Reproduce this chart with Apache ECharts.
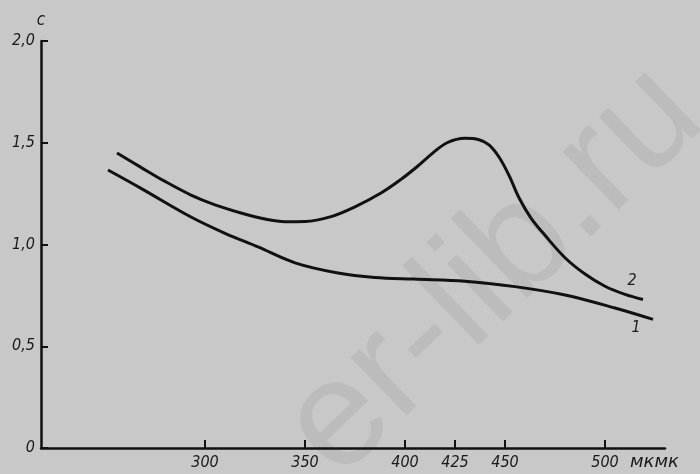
<!DOCTYPE html>
<html>
<head>
<meta charset="utf-8">
<script src="https://cdn.jsdelivr.net/npm/echarts@6/dist/echarts.min.js"></script>
<style>
html,body{margin:0;padding:0;background:#c8c8c8;}
#chart{width:700px;height:474px;}
</style>
</head>
<body>
<div id="chart"></div>
<script>
// Data (wavelength in мкмк, value c)
var curve1X = [251.5, 268, 293, 310, 326.5, 345, 366.5, 385, 404.5, 430, 455, 480, 505, 524];
var curve1Y = [1.366, 1.276, 1.135, 1.055, 0.988, 0.91, 0.86, 0.838, 0.83, 0.82, 0.793, 0.752, 0.688, 0.632];
var curve2X = [256, 268, 280, 293, 305, 318, 330, 340, 350, 363, 375, 388, 398, 406, 414, 421, 430, 437, 442, 447, 452, 457, 463, 470, 480, 490, 500, 510, 519];
var curve2Y = [1.45, 1.379, 1.31, 1.243, 1.195, 1.155, 1.125, 1.112, 1.113, 1.137, 1.185, 1.253, 1.32, 1.382, 1.45, 1.50, 1.522, 1.515, 1.49, 1.43, 1.34, 1.23, 1.13, 1.045, 0.935, 0.855, 0.795, 0.755, 0.73];
var xTicks = [300, 350, 400, 425, 450, 500];
var yTicks = [0, 0.5, 1.0, 1.5, 2.0];
var curveNames = ['1', '2'];

function pairs(xs, ys) { return xs.map(function (x, i) { return [x, ys[i]]; }); }

var font = "'Liberation Sans Narrow', 'DejaVu Sans Condensed', 'DejaVu Sans', sans-serif";
var chart = echarts.init(document.getElementById('chart'));
chart.setOption({
  backgroundColor: '#c8c8c8',
  animation: false,
  grid: { left: 41, right: 35, top: 41, bottom: 26 },
  xAxis: {
    type: 'value', min: 218, max: 530,
    axisLine: { lineStyle: { color: '#111', width: 2.5 } },
    axisTick: { inside: true, length: 8, customValues: xTicks, lineStyle: { color: '#111', width: 2 } },
    axisLabel: { customValues: xTicks, margin: 7, color: '#1a1a1a', fontSize: 16, fontStyle: 'italic', fontFamily: font },
    splitLine: { show: false }
  },
  yAxis: {
    type: 'value', min: 0, max: 2, interval: 0.5,
    name: 'c', nameGap: 12,
    nameTextStyle: { color: '#1a1a1a', fontSize: 17, fontStyle: 'italic', fontFamily: font, align: 'center' },
    axisLine: { lineStyle: { color: '#111', width: 2.5 } },
    axisTick: { inside: true, length: 7, lineStyle: { color: '#111', width: 2 } },
    axisLabel: {
      margin: 6, color: '#1a1a1a', fontSize: 16, fontStyle: 'italic', fontFamily: font,
      formatter: function (v) { return v === 0 ? '0' : v.toFixed(1).replace('.', ','); }
    },
    splitLine: { show: false }
  },
  graphic: [
    { type: 'text', z: 0, x: 494, y: 272, rotation: 0.77,
      style: { text: 'er-lib.ru', font: "152px 'Liberation Sans', Arial, sans-serif", fill: '#bcbcbc', align: 'center', verticalAlign: 'middle' } },
    { type: 'text', z: 10, x: 630, y: 462,
      style: { text: 'мкмк', font: "italic 18px 'DejaVu Sans', sans-serif", fill: '#1a1a1a', align: 'left', verticalAlign: 'middle' } },
    { type: 'text', z: 10, x: 632, y: 281,
      style: { text: curveNames[1], font: "italic 16px " + font, fill: '#1a1a1a', align: 'center', verticalAlign: 'middle' } },
    { type: 'text', z: 10, x: 636, y: 328,
      style: { text: curveNames[0], font: "italic 16px " + font, fill: '#1a1a1a', align: 'center', verticalAlign: 'middle' } }
  ],
  series: [
    { name: curveNames[0], type: 'line', smooth: 0.35, showSymbol: false, z: 5,
      lineStyle: { color: '#111', width: 3 }, data: pairs(curve1X, curve1Y) },
    { name: curveNames[1], type: 'line', smooth: 0.35, showSymbol: false, z: 5,
      lineStyle: { color: '#111', width: 3 }, data: pairs(curve2X, curve2Y) }
  ]
});
</script>
</body>
</html>
